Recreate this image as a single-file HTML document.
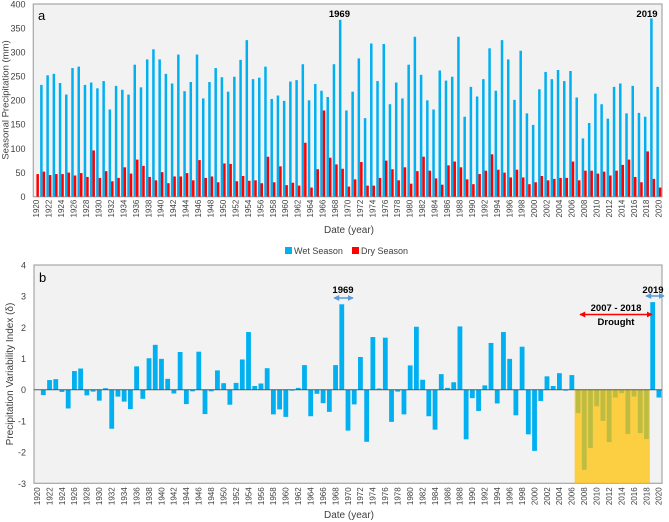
<!DOCTYPE html>
<html><head><meta charset="utf-8"><style>
body{margin:0;background:#fff}
svg{display:block;font-family:"Liberation Sans",sans-serif}
</style></head><body>
<svg id="chart" width="669" height="522" viewBox="0 0 669 522" xmlns="http://www.w3.org/2000/svg">
<g id="pa"></g>
<g id="pb"></g>
</svg>
<script>
const years=[];for(let y=1920;y<=2020;y++)years.push(y);
const wetSeason=[0,232,252,255,236,212,267,270,232,237,225,240,181,230,222,212,274,227,285,306,285,255,235,295,219,238,295,204,238,267,248,218,249,284,
325,244,247,270,203,210,199,239,242,275,200,234,220,207,275,367,179,218,287,163,318,240,317,192,237,204,274,332,253,200,181,262,241,249,332,
166,228,208,244,308,220,325,285,201,303,173,149,223,259,244,263,240,261,206,121,153,214,192,162,228,235,173,230,174,166,370,228];
const drySeason=[47,52,45,47,47,50,44,49,41,96,39,53,32,39,61,48,77,64,41,34,51,28,42,42,49,34,76,39,42,30,69,68,32,
43,33,34,28,83,30,63,24,29,23,112,19,57,179,81,67,58,21,36,72,23,23,39,75,57,34,61,27,53,83,54,38,25,65,73,61,
36,26,47,54,88,56,50,40,56,40,26,30,43,34,37,39,39,73,34,54,54,48,52,44,54,66,77,41,30,94,37,19];
const pvi=[0,-0.17,0.31,0.34,-0.07,-0.6,0.6,0.68,-0.18,-0.06,-0.35,0.05,-1.25,-0.22,-0.38,-0.62,0.75,-0.29,1.01,1.44,0.99,0.35,-0.12,1.21,-0.46,-0.05,1.22,-0.78,-0.05,0.62,0.21,-0.48,0.22,
0.97,1.85,0.12,0.2,0.69,-0.79,-0.63,-0.87,-0.03,0.06,0.79,-0.85,-0.13,-0.43,-0.71,0.79,2.74,-1.31,-0.47,1.05,-1.67,1.69,0.04,1.67,-1.03,-0.06,-0.79,0.78,2.02,0.32,-0.85,-1.28,0.5,0.06,0.24,
2.03,-1.59,-0.27,-0.68,0.14,1.5,-0.44,1.85,0.99,-0.82,1.38,-1.43,-1.96,-0.36,0.43,0.12,0.53,-0.03,0.47,-0.75,-2.57,-1.87,-0.53,-1.0,-1.68,-0.25,-0.11,-1.42,-0.22,-1.39,-1.58,2.81,-0.25];
const ticksA=[0,50,100,150,200,250,300,350,400];
const ticksB=[-3,-2,-1,0,1,2,3,4];

const NS='http://www.w3.org/2000/svg';
function mk(p,t,a,txt){const e=document.createElementNS(NS,t);for(const k in a)e.setAttribute(k,a[k]);if(txt!==undefined)e.textContent=txt;p.appendChild(e);return e;}

// ---- Panel A
const pa=document.getElementById('pa');
const L=33.3,R=662,cw=(R-L)/years.length;
const aTop=4,aBot=196.7;
const ya=v=>aBot-(v/400)*(aBot-aTop);
const xc=i=>L+cw*(i+0.5);
let e=mk(pa,'rect',{x:L,y:aTop,width:R-L,height:aBot-aTop,fill:'#f2f2f2',stroke:'#a6a6a6','stroke-width':1.2});


const bw=2.5;
years.forEach((y,i)=>{
  if(wetSeason[i]>0){const b=mk(pa,'rect',{x:xc(i)-bw,y:ya(wetSeason[i]),width:bw,height:aBot-ya(wetSeason[i]),fill:'#00b0f0'});
  
  }
  const r=mk(pa,'rect',{x:xc(i),y:ya(drySeason[i]),width:bw,height:aBot-ya(drySeason[i]),fill:'#ff0000'});
  
  
});
ticksA.forEach(t=>{const tt=mk(pa,'text',{x:25.5,y:ya(t)+3.3,'font-size':9,'text-anchor':'end',fill:'#404040'},t);

});
years.forEach((y,i)=>{if(y%2===0){const tt=mk(pa,'text',{transform:`translate(${xc(i)+2.8},${aBot+3}) rotate(-90)`,'font-size':8,'text-anchor':'end',fill:'#404040'},y);

}});
e=mk(pa,'text',{transform:'translate(8.5,100) rotate(-90)','font-size':9.5,'text-anchor':'middle',fill:'#404040'},'Seasonal  Precipitation (mm)');


e=mk(pa,'text',{x:349,y:233,'font-size':10,'text-anchor':'middle',fill:'#404040'},'Date (year)');


e=mk(pa,'text',{x:38,y:20,'font-size':13,fill:'#000'},'a');


const iMaxA1=wetSeason.indexOf(Math.max(...wetSeason.slice(0,60)));
e=mk(pa,'text',{x:xc(iMaxA1)-2,y:17,'font-size':9.5,'font-weight':'bold','text-anchor':'middle'},'1969');


e=mk(pa,'text',{x:647,y:17,'font-size':9.5,'font-weight':'bold','text-anchor':'middle'},'2019');


// legend
e=mk(pa,'rect',{x:285,y:247,width:7,height:7,fill:'#00b0f0'});


e=mk(pa,'text',{x:294,y:254,'font-size':9,fill:'#404040'},'Wet Season');


e=mk(pa,'rect',{x:352,y:247,width:7,height:7,fill:'#ff0000'});


e=mk(pa,'text',{x:361,y:254,'font-size':9,fill:'#404040'},'Dry Season');



// ---- Panel B
const pb=document.getElementById('pb');
const bL=34,bR=662,bTop=265,bBot=483.3,cwb=(bR-bL)/years.length;
const yb=v=>bBot-((v+3)/7)*(bBot-bTop);
const xb=i=>bL+cwb*(i+0.5);
e=mk(pb,'rect',{x:bL,y:bTop,width:bR-bL,height:bBot-bTop,fill:'#f2f2f2',stroke:'#a6a6a6','stroke-width':1.2});


years.forEach((y,i)=>{const v=pvi[i];if(v===0)return;const y0=yb(0),y1=yb(v);
const b=mk(pb,'rect',{x:xb(i)-2.4,y:Math.min(y0,y1),width:4.8,height:Math.abs(y1-y0),fill:'#00b0f0'});

});
// drought shading
const d0=years.indexOf(2007),d1=years.indexOf(2018);
e=mk(pb,'rect',{x:xb(d0)-3.4,y:yb(0),width:xb(d1)-xb(d0)+6.8,height:bBot-yb(0),fill:'rgba(255,193,7,0.75)'});


e=mk(pb,'line',{x1:bL,x2:bR,y1:yb(0),y2:yb(0),stroke:'#595959','stroke-width':1});


ticksB.forEach(t=>{const tt=mk(pb,'text',{x:26,y:yb(t)+3.5,'font-size':9,'text-anchor':'end',fill:'#404040'},t);

});
years.forEach((y,i)=>{if(y%2===0){const tt=mk(pb,'text',{transform:`translate(${xb(i)+2.8},${bBot+4}) rotate(-90)`,'font-size':8,'text-anchor':'end',fill:'#404040'},y);

}});
e=mk(pb,'text',{transform:'translate(13,374) rotate(-90)','font-size':10,'text-anchor':'middle',fill:'#404040'},'Precipitation Variability Index (δ)');


e=mk(pb,'text',{x:349,y:518,'font-size':10,'text-anchor':'middle',fill:'#404040'},'Date (year)');


e=mk(pb,'text',{x:39,y:282,'font-size':13,fill:'#000'},'b');


// annotations
const defs=mk(document.getElementById('chart'),'defs',{});
function arrowHead(id,c){const m=mk(defs,'marker',{id:id,markerWidth:4,markerHeight:4,refX:3.5,refY:2,orient:'auto-start-reverse'});mk(m,'path',{d:'M0,0 L4,2 L0,4 z',fill:c});}
arrowHead('ab','#5b9bd5');arrowHead('ar','#ff0000');
e=mk(pb,'text',{x:343,y:293,'font-size':9.5,'font-weight':'bold','text-anchor':'middle'},'1969');


e=mk(pb,'line',{x1:334,x2:353,y1:298,y2:298,stroke:'#5b9bd5','stroke-width':1.5,'marker-start':'url(#ab)','marker-end':'url(#ab)'});


e=mk(pb,'text',{x:653,y:293,'font-size':9.5,'font-weight':'bold','text-anchor':'middle'},'2019');


e=mk(pb,'line',{x1:646,x2:664,y1:296,y2:296,stroke:'#5b9bd5','stroke-width':1.5,'marker-start':'url(#ab)','marker-end':'url(#ab)'});


e=mk(pb,'text',{x:616,y:311,'font-size':9.5,'font-weight':'bold','text-anchor':'middle'},'2007 - 2018');


e=mk(pb,'line',{x1:580,x2:652,y1:314.5,y2:314.5,stroke:'#ff0000','stroke-width':1.5,'marker-start':'url(#ar)','marker-end':'url(#ar)'});


e=mk(pb,'text',{x:616,y:325,'font-size':9.5,'font-weight':'bold','text-anchor':'middle'},'Drought');


</script>
</body></html>
